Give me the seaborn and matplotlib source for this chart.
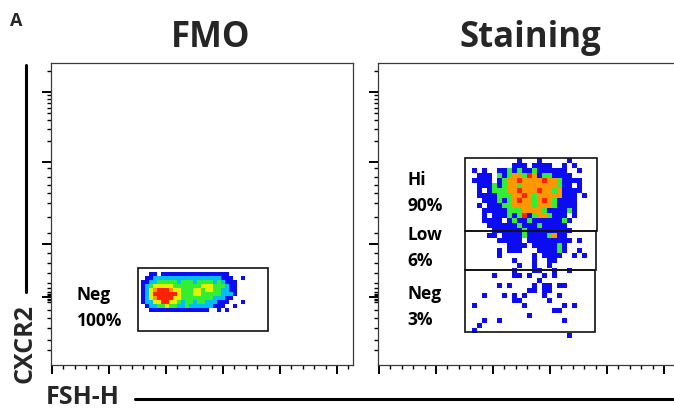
import numpy as np
import pandas as pd
import matplotlib
matplotlib.use("Agg")
import matplotlib.pyplot as plt
from matplotlib.lines import Line2D
from matplotlib.patches import Rectangle
import seaborn as sns

# density level of each bin
# b blue, c cyan, g green, y yellow, o orange, r red, space = no events
fmo_bins = [
    "  bb bbbbbbbbbbbbbbbbb    ",
    " bbcccccccccccccccccbbb  b",
    "bbccgggggcgggcggggcgcbbb  ",
    "bcgyyyyygggggggyyygggcbb  ",
    "bcyorrroyygggyygyyggccbb  ",
    "bcyrrrrrrygggyygggggcccb  ",
    "bcyorrrryyggggggggcccbb   ",
    "bccyyrryygcggcggcccbbb   b",
    " bccggyggccgccccccbbb  b  ",
    "  bbbbbbbbbbbbbbb  b b    ",
]
# channel of first bin centre (x, y) and bin width
fmo_x0, fmo_y0, fmo_step = 92, 91, 4

stain_bins = [
    "          b   b     b     ",
    "         bbb bbbb  b b    ",
    " b b  bbgbgbbgbbbbbb  b   ",
    "  bbb gbgoogrobggbbbb     ",
    " bbbb bgoorooooroogbbbb   ",
    "  bbbgbgoogooooooogbb b   ",
    "  b bgggooroooroogobbbb   ",
    "  bbbbgggoorogooooobbb b  ",
    "   bbbgbgoroogorogbbbb    ",
    "  b bbbggoooogooogbbbb    ",
    "   bbbbbgggoooogbbbbgb    ",
    "   b bbbgbgrbgoogbbb b    ",
    "   bbbb bgbbgbbbbbbgb     ",
    "    bbbbbbgbbbgbbbbb      ",
    "     bbbbbbgbbbbbbbbb     ",
    "    bb bbbbgbbbbgobb      ",
    "      bbbbb bbbbbbbbb b   ",
    "        bbbb bbbbbgb      ",
    "      b bbb   bbbbgb  b   ",
    "      b      b bbbb  b b  ",
    "         b   b  bb        ",
    "          b  b  b         ",
    "         b   bb  b  b     ",
    "     b   bb b  b b        ",
    "              b           ",
    "      b b    b bb bb      ",
    "            bb bb         ",
    "   b   b b b   b  b       ",
    "         bb     b         ",
    " b         b       b b    ",
    "                 bb       ",
    "            b             ",
    "   b  b            b      ",
    "  b                       ",
    " b                        ",
    "                    b     ",
]
stain_x0, stain_y0, stain_step = 91.5, 204.5, 5

# gates: x range, y range (channels), name, percent
fmo_gate_x = [(87, 217)]
fmo_gate_y = [(34, 97)]
fmo_gate_names = ["Neg"]
fmo_gate_pct = ["100%"]
fmo_label_y = [57]

stain_gate_x = [(87, 219), (87, 218), (87, 217)]
stain_gate_y = [(134, 207), (95, 134), (33, 95)]
stain_gate_names = ["Hi", "Low", "Neg"]
stain_gate_pct = ["90%", "6%", "3%"]
stain_label_y = [172, 117, 58]

LEVELS = ["b", "c", "g", "y", "o", "r"]
PALETTE = {"b": "#0c0cf2", "c": "#00bff7", "g": "#33ee33",
           "y": "#e6f000", "o": "#ff9800", "r": "#ff2200"}


def bins_to_events(rows, x0, y0, step):
    recs = []
    for r, line in enumerate(rows):
        for c, ch in enumerate(line):
            if ch in LEVELS:
                recs.append((x0 + c * step, y0 - r * step, ch))
    df = pd.DataFrame(recs, columns=["FSH-H", "CXCR2", "level"])
    df["order"] = df["level"].map(LEVELS.index)
    return df.sort_values("order")


sns.set_style("white")
plt.rcParams["font.family"] = ["Open Sans", "DejaVu Sans"]
plt.rcParams["font.weight"] = "bold"

fig = plt.figure(figsize=(6.74, 4.12), dpi=100)
W, H = 674, 412
ax1 = fig.add_axes([51 / W, 47 / H, 302 / W, 302 / H])
ax2 = fig.add_axes([378 / W, 47 / H, 302 / W, 302 / H])

x_major = [1 + 57 * k for k in range(6)]
x_minor = [1 + 11.4 * j for j in range(27) if j % 5]
y_major = [273, 203, 121, 68]
y_minor = ([203 + 70 * np.log10(n) for n in range(2, 10)] + [294]
           + [132, 148, 162, 172, 180, 188, 197]
           + [112, 102, 92, 82, 77]
           + [63, 65, 66, 70, 71, 73]
           + [55, 47, 37, 25, 15])


def style_axes(ax):
    ax.set_xlim(0, 302)
    ax.set_ylim(0, 302)
    ax.set_xticks(x_major)
    ax.set_xticks(x_minor, minor=True)
    ax.set_yticks(y_major)
    ax.set_yticks(y_minor, minor=True)
    ax.set_xticklabels([])
    ax.set_yticklabels([])
    ax.tick_params(which="major", direction="out", length=6.5, width=1.4,
                   color="black", left=True, bottom=True)
    ax.tick_params(which="minor", direction="out", length=3.2, width=1.0,
                   color="black", left=True, bottom=True)
    for s in ax.spines.values():
        s.set_color("#3a3a3a")
        s.set_linewidth(0.9)
    ax.set_xlabel("")
    ax.set_ylabel("")


def draw_panel(ax, df, size, gx, gy, names, pcts, label_y, label_x):
    sns.scatterplot(data=df, x="FSH-H", y="CXCR2", hue="level", palette=PALETTE,
                    marker="s", s=size, linewidth=0, legend=False, ax=ax, zorder=2)
    for (x0, x1), (y0, y1) in zip(gx, gy):
        ax.add_patch(Rectangle((x0, y0), x1 - x0, y1 - y0, fill=False,
                               edgecolor="#111111", linewidth=1.2, zorder=3))
    for name, pct, ly in zip(names, pcts, label_y):
        ax.text(label_x, ly, f"{name}\n{pct}", ha="left", va="center",
                fontsize=12.5, fontweight="bold", linespacing=1.55, color="black")
    style_axes(ax)


fmo_df = bins_to_events(fmo_bins, fmo_x0, fmo_y0, fmo_step)
stain_df = bins_to_events(stain_bins, stain_x0, stain_y0, stain_step)

draw_panel(ax1, fmo_df, 8.5, fmo_gate_x, fmo_gate_y, fmo_gate_names,
           fmo_gate_pct, fmo_label_y, 26)
draw_panel(ax2, stain_df, 9, stain_gate_x, stain_gate_y, stain_gate_names,
           stain_gate_pct, stain_label_y, 29)

fig.text(10 / W, 1 - 26 / H, "A", fontsize=13, fontweight="bold", va="baseline")
fig.text(211 / W, 1 - 47 / H, "FMO", fontsize=25, fontweight="bold",
         ha="center", va="baseline")
fig.text(530 / W, 1 - 47 / H, "Staining", fontsize=25, fontweight="bold",
         ha="center", va="baseline")
fig.text(25 / W, 1 - 344 / H, "CXCR2", fontsize=18, fontweight="bold",
         rotation=90, ha="center", va="center")
fig.text(46 / W, 1 - 398 / H, "FSH-H", fontsize=18, fontweight="bold",
         ha="left", va="center")
fig.add_artist(Line2D([26 / W, 26 / W], [1 - 65 / H, 1 - 292 / H],
                      transform=fig.transFigure, color="black", lw=2.2))
fig.add_artist(Line2D([135 / W, 1.0], [1 - 399 / H, 1 - 399 / H],
                      transform=fig.transFigure, color="black", lw=2.2))

fig.savefig("out.png", dpi=100)
